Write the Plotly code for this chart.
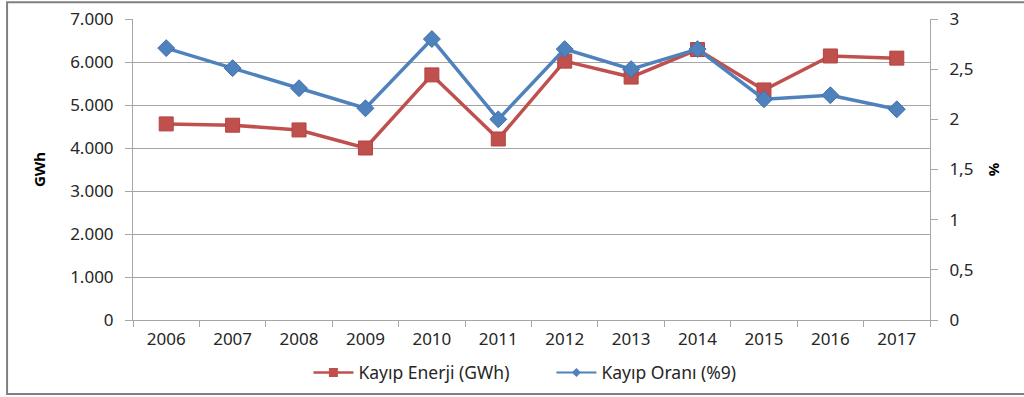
import plotly.graph_objects as go

years = ["2006", "2007", "2008", "2009", "2010", "2011",
         "2012", "2013", "2014", "2015", "2016", "2017"]
kayip_enerji = [4560, 4530, 4420, 4000, 5700, 4210, 6020, 5650, 6290, 5350, 6140, 6090]
kayip_orani = [2.71, 2.51, 2.31, 2.11, 2.80, 2.00, 2.70, 2.50, 2.70, 2.20, 2.24, 2.10]
series_names = ["Kayıp Enerji (GWh)", "Kayıp Oranı (%9)"]

RED = "#C0504D"
BLUE = "#4F81BD"
GRID = "#A6A6A6"
TXT = "#262626"
FONT = "Noto Sans"

fig = go.Figure()
fig.add_trace(go.Scatter(
    x=years, y=kayip_enerji, name=series_names[0], showlegend=False,
    mode="lines+markers",
    line=dict(color=RED, width=3.5),
    marker=dict(symbol="square", size=14, color=RED, line=dict(color="#B34440", width=1)),
    yaxis="y",
))
fig.add_trace(go.Scatter(
    x=years, y=kayip_orani, name=series_names[1], showlegend=False,
    mode="lines+markers",
    line=dict(color=BLUE, width=3.5),
    marker=dict(symbol="diamond", size=13, color=BLUE, line=dict(color="#3F71AD", width=1)),
    yaxis="y2",
))
# legend entries with the smaller legend-style markers
fig.add_trace(go.Scatter(
    x=[None], y=[None], name=series_names[0], mode="lines+markers",
    line=dict(color=RED, width=2.5),
    marker=dict(symbol="square", size=9, color=RED),
))
fig.add_trace(go.Scatter(
    x=[None], y=[None], name=series_names[1], mode="lines+markers",
    line=dict(color=BLUE, width=2),
    marker=dict(symbol="diamond", size=7, color=BLUE),
))

fig.update_layout(
    width=1024, height=397,
    margin=dict(l=133, r=94, t=19, b=77, autoexpand=False),
    paper_bgcolor="white", plot_bgcolor="white",
    separators=",.",
    font=dict(family=FONT, size=16, color=TXT),
    showlegend=True,
    legend=dict(orientation="h", x=0.525, xanchor="center", y=-0.175, yanchor="middle",
                font=dict(size=17.5, color=TXT), itemwidth=40,
                entrywidth=188, entrywidthmode="pixels",
                traceorder="normal", bgcolor="rgba(0,0,0,0)"),
    xaxis=dict(
        type="category", range=[-0.5, 11.5], automargin=False,
        showline=True, linecolor=GRID, linewidth=1,
        ticks="outside", tickson="boundaries", ticklen=6, tickcolor=GRID,
        ticklabelstandoff=4,
        showgrid=False, tickfont=dict(size=17, color=TXT),
    ),
    yaxis=dict(
        range=[0, 7000], dtick=1000, tickformat=",.0f", automargin=False,
        showline=True, linecolor=GRID, linewidth=1,
        ticks="outside", ticklen=7, tickcolor=GRID, ticklabelstandoff=8,
        gridcolor=GRID, gridwidth=1, zeroline=False,
        tickfont=dict(size=17, color=TXT),
        title=dict(text="<b>GWh</b>", font=dict(size=15, color="#000"), standoff=20),
    ),
    yaxis2=dict(
        range=[0, 3], dtick=0.5, overlaying="y", side="right", automargin=False,
        showline=True, linecolor=GRID, linewidth=1,
        ticks="outside", ticklen=7, tickcolor=GRID, ticklabelstandoff=8,
        showgrid=False, zeroline=False,
        tickfont=dict(size=17, color=TXT),
        title=dict(text="<b>%</b>", font=dict(size=15, color="#000"), standoff=16),
    ),
    shapes=[dict(type="rect", xref="paper", yref="paper",
                 x0=-0.158, x1=1.15, y0=-0.246, y1=1.056,
                 line=dict(color="#808080", width=2), fillcolor="rgba(0,0,0,0)",
                 layer="below")],
)

fig.write_html("out.html")
